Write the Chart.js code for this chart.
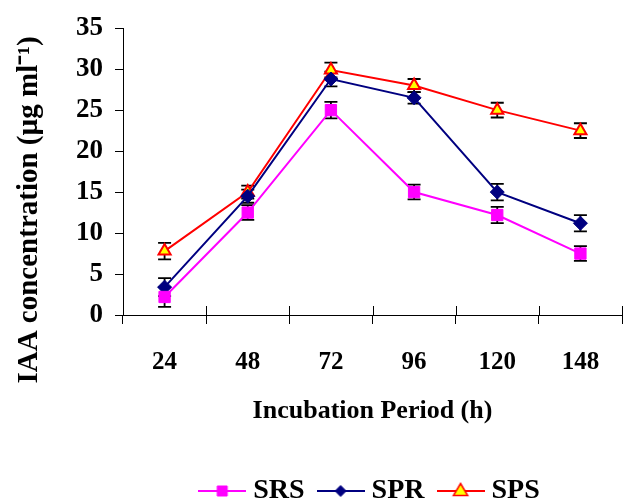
<!DOCTYPE html>
<html>
<head>
<meta charset="utf-8">
<script src="https://cdn.jsdelivr.net/npm/chart.js@4.4.0/dist/chart.umd.min.js"></script>
<style>
  html, body { margin: 0; padding: 0; background: #fff; overflow: hidden; }
  #wrap { width: 623px; height: 500px; }
</style>
</head>
<body>
<div id="wrap"><canvas id="c"></canvas></div>
<script>
const categories = ['24', '48', '72', '96', '120', '148'];
const srsValues = [2.2, 12.5, 25.0, 15.0, 12.2, 7.5];
const sprValues = [3.4, 14.5, 28.8, 26.5, 15.0, 11.2];
const spsValues = [7.8, 15.0, 29.9, 28.0, 25.0, 22.5];
const srsErrors = [1.2, 0.9, 1.0, 0.9, 1.0, 0.9];
const sprErrors = [1.1, 0.8, 0.9, 0.7, 1.0, 1.0];
const spsErrors = [1.0, 0.8, 0.9, 0.8, 0.9, 0.9];
const yTicks = [0, 5, 10, 15, 20, 25, 30, 35];
const xTitle = 'Incubation Period (h)';
const yTitle = 'IAA concentration (\u00b5g ml\u207b\u00b9)';

const FONT = '"Liberation Serif", "Times New Roman", serif';

function legendIcon(color, style, fill, border, radius) {
  const w = 48, h = 20;
  const cv = document.createElement('canvas');
  cv.width = w; cv.height = h;
  const ctx = cv.getContext('2d');
  ctx.strokeStyle = color; ctx.lineWidth = 2;
  ctx.beginPath(); ctx.moveTo(0, h / 2); ctx.lineTo(w, h / 2); ctx.stroke();
  ctx.fillStyle = fill; ctx.strokeStyle = border; ctx.lineWidth = style === 'triangle' ? 1.5 : 1;
  const x = w / 2, y = h / 2;
  ctx.beginPath();
  if (style === 'rect') {
    ctx.rect(x - radius, y - radius, radius * 2, radius * 2);
  } else if (style === 'rectRot') {
    ctx.moveTo(x - radius, y); ctx.lineTo(x, y - radius); ctx.lineTo(x + radius, y); ctx.lineTo(x, y + radius); ctx.closePath();
  } else {
    ctx.moveTo(x, y - radius); ctx.lineTo(x + radius * 0.95, y + radius * 0.6); ctx.lineTo(x - radius * 0.95, y + radius * 0.6); ctx.closePath();
  }
  ctx.fill(); ctx.stroke();
  return cv;
}

const errorBars = {
  id: 'errorBars',
  beforeDatasetsDraw(chart) {
    const ctx = chart.ctx;
    const y = chart.scales.y;
    ctx.save();
    ctx.strokeStyle = '#000';
    ctx.lineWidth = 1.8;
    chart.data.datasets.forEach((ds, di) => {
      const meta = chart.getDatasetMeta(di);
      ds.data.forEach((v, i) => {
        const px = meta.data[i].x;
        const e = ds.errors[i];
        const top = y.getPixelForValue(v + e);
        const bot = y.getPixelForValue(v - e);
        ctx.beginPath();
        ctx.moveTo(px, top); ctx.lineTo(px, bot);
        ctx.moveTo(px - 6.5, top); ctx.lineTo(px + 6.5, top);
        ctx.moveTo(px - 6.5, bot); ctx.lineTo(px + 6.5, bot);
        ctx.stroke();
      });
    });
    ctx.restore();
  },
  afterDraw(chart) {
    const ctx = chart.ctx;
    const a = chart.chartArea;
    const x = chart.scales.x;
    ctx.save();
    ctx.strokeStyle = '#000'; ctx.lineWidth = 1;
    for (let i = 0; i <= categories.length; i++) {
      const px = Math.round(x.getPixelForValue(i - 0.5)) + 0.5;
      ctx.beginPath(); ctx.moveTo(px, a.bottom); ctx.lineTo(px, a.bottom - 9); ctx.stroke();
    }
    ctx.fillStyle = '#000';
    ctx.font = 'bold 29px ' + FONT;
    ctx.textAlign = 'center'; ctx.textBaseline = 'middle';
    ctx.translate(30, 210);
    ctx.rotate(-Math.PI / 2);
    ctx.fillText(yTitle, 0, 0);
    ctx.restore();
  }
};

const icons = [
  legendIcon('#FF00FF', 'rect', '#FF00FF', '#FF00FF', 5),
  legendIcon('#000080', 'rectRot', '#000080', '#000080', 5.5),
  legendIcon('#FF0000', 'triangle', '#FFFF00', '#FF0000', 7.5)
];

new Chart(document.getElementById('c'), {
  type: 'line',
  data: {
    labels: categories,
    datasets: [
      { label: 'SRS', data: srsValues, errors: srsErrors, borderColor: '#FF00FF', backgroundColor: '#FF00FF',
        pointStyle: 'rect', pointRadius: 8, pointBorderColor: '#FF00FF', pointBackgroundColor: '#FF00FF', borderWidth: 2, pointBorderWidth: 1 },
      { label: 'SPR', data: sprValues, errors: sprErrors, borderColor: '#000080', backgroundColor: '#000080',
        pointStyle: 'rectRot', pointRadius: 7, pointBorderColor: '#000080', pointBackgroundColor: '#000080', borderWidth: 2, pointBorderWidth: 1 },
      { label: 'SPS', data: spsValues, errors: spsErrors, borderColor: '#FF0000', backgroundColor: '#FFFF00',
        pointStyle: 'triangle', pointRadius: 7, pointBorderColor: '#FF0000', pointBackgroundColor: '#FFFF00', borderWidth: 2, pointBorderWidth: 2 }
    ]
  },
  options: {
    responsive: true,
    maintainAspectRatio: false,
    animation: false,
    devicePixelRatio: 1,
    layout: { autoPadding: false, padding: { top: 24, right: 1, left: 0, bottom: -15 } },
    plugins: {
      tooltip: { enabled: false },
      legend: {
        position: 'bottom',
        fullSize: false,
        labels: {
          usePointStyle: true,
          pointStyleWidth: 34,
          padding: 19,
          color: '#000',
          font: { family: FONT, size: 28, weight: 'bold' },
          generateLabels(chart) {
            return chart.data.datasets.map((ds, i) => ({
              text: ds.label, pointStyle: icons[i], datasetIndex: i,
              fillStyle: ds.backgroundColor, strokeStyle: ds.borderColor, lineWidth: 0, fontColor: '#000', hidden: false
            }));
          }
        }
      }
    },
    scales: {
      x: {
        type: 'category',
        offset: true,
        afterFit(scale) { scale.paddingLeft = 0; scale.paddingRight = 0; scale.height = 143; },
        border: { display: true, color: '#000', width: 1 },
        grid: { display: true, offset: true, drawOnChartArea: false, drawTicks: true, tickLength: 9, color: '#000', lineWidth: 1 },
        ticks: { color: '#000', padding: 24, font: { family: FONT, size: 25, weight: 'bold' }, maxRotation: 0 },
        title: { display: true, text: xTitle, color: '#000', padding: { top: 10, bottom: 31 }, font: { family: FONT, size: 26, weight: 'bold' } }
      },
      y: {
        min: 0, max: 35,
        afterFit(scale) { scale.width = 123; },
        afterBuildTicks(scale) { scale.ticks = yTicks.map(v => ({ value: v })); },
        border: { display: true, color: '#000', width: 1 },
        grid: { display: true, drawOnChartArea: false, drawTicks: true, tickLength: 8, color: '#000', lineWidth: 1 },
        ticks: { color: '#000', padding: 12, font: { family: FONT, size: 27, weight: 'bold' } },
        title: { display: false }
      }
    }
  },
  plugins: [errorBars]
});
</script>
</body>
</html>
